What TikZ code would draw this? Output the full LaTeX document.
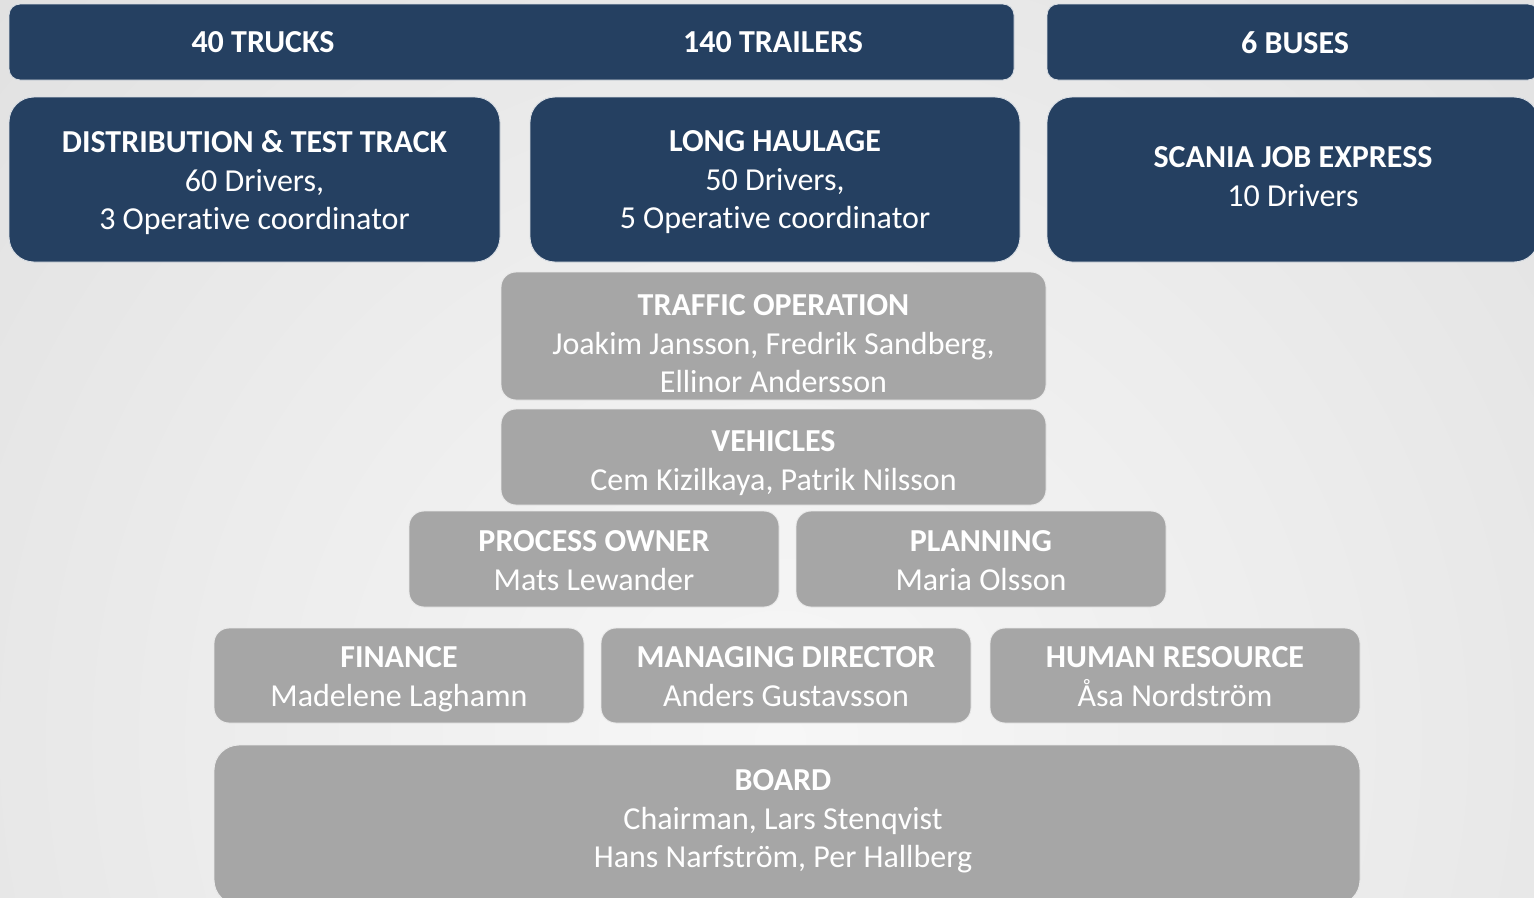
\documentclass[tikz,border=0pt]{standalone}
\usepackage{fontspec}
\setmainfont[Ligatures=NoCommon]{Carlito}
\definecolor{navy}{RGB}{37,64,97}
\definecolor{boxgray}{RGB}{166,166,166}
\definecolor{bgA}{RGB}{247,247,247}
\definecolor{bgB}{RGB}{236,236,236}
\definecolor{bgC}{RGB}{218,218,218}
\definecolor{bgD}{RGB}{210,210,210}
\pgfdeclareradialshading{bgshade}{\pgfpoint{0bp}{0bp}}{color(0bp)=(bgA); color(13bp)=(bgB); color(32bp)=(bgC); color(50bp)=(bgD)}
\newcommand{\oper}{Operat\kern0pt ive}
\begin{document}
\begin{tikzpicture}[x=1pt,y=-1pt,
  navybox/.style={draw=white!82!navy, line width=0.9pt, fill=navy, inner sep=0pt, outer sep=0pt},
  graybox/.style={draw=white!75!boxgray, line width=0.9pt, fill=boxgray, inner sep=0pt, outer sep=0pt, rounded corners=15pt},
  lbl/.style={text=white, align=center, anchor=north, inner sep=0pt, font=\fontsize{32}{38.5}\selectfont}]
\useasboundingbox (0,0) rectangle (1534,897);
\clip (0,0) rectangle (1534,897);
\shade[shading=bgshade] (780,740) circle (1100);

% top bars
\node[navybox, rounded corners=11pt, minimum width=1005pt, minimum height=76pt] (topbar) at (511.5,42) {};
\node[navybox, rounded corners=11pt, minimum width=492pt, minimum height=76pt] (busbar) at (1293,42) {};
\node[lbl] (trucks) at (263,31) {\bfseries 40 TRUCKS};
\node[lbl] (trailers) at (773,31) {\bfseries 140 TRAILERS};
\node[lbl] (buses) at (1295,31) {\bfseries 6 BUSES};

% second row
\node[navybox, rounded corners=25pt, minimum width=491pt, minimum height=165pt] (distbox) at (254.5,179.5) {};
\node[navybox, rounded corners=25pt, minimum width=490pt, minimum height=165pt] (longbox) at (775,179.5) {};
\node[navybox, rounded corners=25pt, minimum width=492pt, minimum height=165pt] (scaniabox) at (1293,179.5) {};
\node[lbl] (dist) at (254.5,130.5) {\textbf{DISTRIBUTION \& TEST TRACK}\\60 Drivers,\\3 \oper{} coordinator};
\node[lbl] (long) at (775,130.5) {\textbf{LONG HAULAGE}\\50 Drivers,\\5 \oper{} coordinator};
\node[lbl] (scania) at (1293,146.5) {\textbf{SCANIA JOB EXPRESS}\\10 Drivers};

% gray boxes
\node[graybox, minimum width=545pt, minimum height=128pt] (trafficbox) at (773.5,336) {};
\node[lbl] (traffic) at (773.5,294.5) {\textbf{TRAFFIC OPERATION}\\Joakim Jansson, Fredrik Sandberg,\\Ellinor Andersson};

\node[graybox, minimum width=545pt, minimum height=96pt] (vehbox) at (773.5,457) {};
\node[lbl] (veh) at (773.5,430.5) {\textbf{VEHICLES}\\Cem Kizilkaya, Patrik Nilsson};

\node[graybox, minimum width=370pt, minimum height=96pt] (procbox) at (594,559) {};
\node[lbl] (proc) at (594,530.5) {\textbf{PROCESS OWNER}\\Mats Lewander};
\node[graybox, minimum width=370pt, minimum height=96pt] (planbox) at (981,559) {};
\node[lbl] (plan) at (981,530.5) {\textbf{PLANNING}\\Maria Olsson};

\node[graybox, minimum width=370pt, minimum height=95pt] (finbox) at (399,675.5) {};
\node[lbl] (fin) at (399,646.5) {\textbf{FINANCE}\\Madelene Laghamn};
\node[graybox, minimum width=370pt, minimum height=95pt] (mdbox) at (786,675.5) {};
\node[lbl] (md) at (786,646.5) {\textbf{MANAGING DIRECTOR}\\Anders Gustavsson};
\node[graybox, minimum width=370pt, minimum height=95pt] (hrbox) at (1175,675.5) {};
\node[lbl] (hr) at (1175,646.5) {\textbf{HUMAN RESOURCE}\\Åsa Nordström};

\node[graybox, rounded corners=25pt, minimum width=1146pt, minimum height=160pt] (boardbox) at (787,825) {};
\node[lbl] (board) at (783,769.5) {\textbf{BOARD}\\Chairman, Lars Stenqvist\\Hans Narfström, Per Hallberg};
\end{tikzpicture}
\end{document}
